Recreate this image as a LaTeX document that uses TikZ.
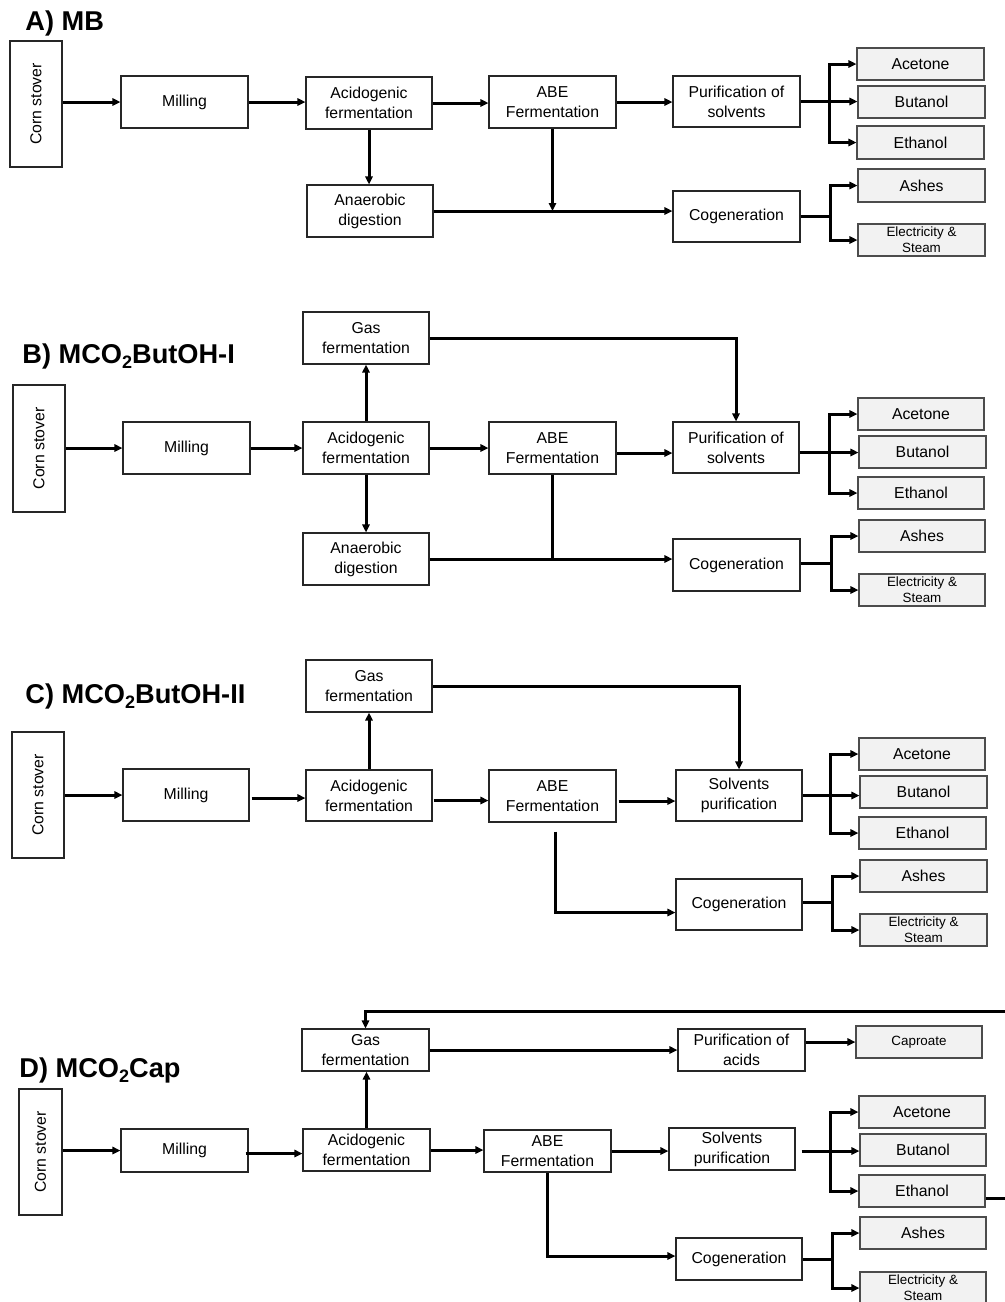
\documentclass[tikz,border=0pt]{standalone}
\usepackage{fontspec}
\setmainfont{Liberation Sans}
\usepackage{graphicx}
\usetikzlibrary{arrows.meta,calc}
\definecolor{prodfill}{RGB}{242,242,242}
\newcommand\fmain{\fontsize{7.9pt}{10pt}\selectfont}
\newcommand\fsmall{\fontsize{6.7pt}{8pt}\selectfont}
\newcommand\ftitle{\fontsize{13.6pt}{16pt}\selectfont\bfseries}
\newcommand\subtwo{\raisebox{-2.6pt}{\fontsize{9pt}{9pt}\selectfont 2}}
\newcommand\bx[7][box]{%
  \pgfmathsetmacro\bxcx{(#3+#5)/2}%
  \pgfmathsetmacro\bxcy{(#4+#6)/2}%
  \pgfmathsetmacro\bxw{(#5-#3)*0.5}%
  \pgfmathsetmacro\bxh{(#6-#4)*0.5}%
  \node[#1, minimum width=\bxw pt, minimum height=\bxh pt] (#2) at (\bxcx,\bxcy) {#7};}
\begin{document}
\begin{tikzpicture}[x=0.5pt,y=-0.5pt,
  box/.style={draw=black!85, line width=0.55pt, fill=white, inner sep=0pt, align=center, font=\fmain},
  prod/.style={box, fill=prodfill, draw=black!70},
  prods/.style={prod, font=\fsmall},
  ttl/.style={anchor=base west, inner sep=0pt, font=\ftitle},
  conn/.style={line width=1.5pt},
  arr/.style={conn, -{Triangle[length=4pt,width=3.6pt]}}]
\useasboundingbox (0,0) rectangle (1005,1302);

% ---------------- Panel A ----------------
\node[ttl] (tA) at (25,30) {A) MB};
\bx{Acorn}{10}{41}{62}{167}{\rotatebox{90}{Corn stover}}
\bx{Amill}{121}{76}{248}{128}{Milling}
\bx{Aacid}{306}{77}{432}{129}{Acidogenic\\fermentation}
\bx{Aanae}{307}{185}{433}{237}{Anaerobic\\digestion}
\bx{Aabe}{489}{76}{616}{128}{ABE\\Fermentation}
\bx{Apur}{673}{76}{800}{127}{Purification of\\solvents}
\bx{Acog}{673}{191}{800}{242}{Cogeneration}
\bx[prod]{Aace}{857}{48}{984}{80}{Acetone}
\bx[prod]{Abut}{858}{86}{985}{118}{Butanol}
\bx[prod]{Aeth}{857}{126}{984}{159}{Ethanol}
\bx[prod]{Aash}{858}{169}{985}{202}{Ashes}
\bx[prods]{Aele}{858}{224}{985}{256}{Electricity \&\\Steam}
\draw[arr] (Acorn.east |- Amill.west) -- (Amill.west);
\draw[arr] (Amill.east) -- (Amill.east -| Aacid.west);
\draw[arr] (Aacid.east) -- (Aacid.east -| Aabe.west);
\draw[arr] (Aabe.east) -- (Aabe.east -| Apur.west);
\draw[arr] (Aacid.south) -- (Aacid.south |- Aanae.north);
\draw[arr] (Aanae.east) -- (Aanae.east -| Acog.west);
\draw[arr] (Aabe.south) -- (Aabe.south |- Aanae.east);
\draw[conn] (Apur.east) -- ++(29,0) coordinate (Aj1);
\draw[arr] (Aj1) |- (Aace.west);
\draw[arr] (Aj1) -- (Aj1 -| Abut.west);
\draw[arr] (Aj1) |- (Aeth.west);
\draw[conn] (Acog.east) -- ++(30,0) coordinate (Aj2);
\draw[arr] (Aj2) |- (Aash.west);
\draw[arr] (Aj2) |- (Aele.west);

% ---------------- Panel B ----------------
\node[ttl] (tB) at (22,363) {B) MCO\subtwo ButOH-I};
\bx{Bgas}{303}{312}{429}{364}{Gas\\fermentation}
\bx{Bcorn}{13}{385}{65}{512}{\rotatebox{90}{Corn stover}}
\bx{Bmill}{123}{422}{250}{474}{Milling}
\bx{Bacid}{303}{422}{429}{474}{Acidogenic\\fermentation}
\bx{Banae}{303}{533}{429}{585}{Anaerobic\\digestion}
\bx{Babe}{489}{422}{616}{474}{ABE\\Fermentation}
\bx{Bpur}{673}{422}{799}{473}{Purification of\\solvents}
\bx{Bcog}{673}{539}{800}{591}{Cogeneration}
\bx[prod]{Bace}{858}{398}{984}{430}{Acetone}
\bx[prod]{Bbut}{859}{436}{986}{468}{Butanol}
\bx[prod]{Beth}{858}{477}{984}{509}{Ethanol}
\bx[prod]{Bash}{859}{520}{985}{552}{Ashes}
\bx[prods]{Bele}{859}{574}{985}{606}{Electricity \&\\Steam}
\draw[arr] (Bcorn.east |- Bmill.west) -- (Bmill.west);
\draw[arr] (Bmill.east) -- (Bmill.east -| Bacid.west);
\draw[arr] (Bacid.east) -- (Bacid.east -| Babe.west);
\draw[arr] ($(Babe.east)+(0,5)$) -- ($(Babe.east -| Bpur.west)+(0,5)$);
\draw[arr] (Bacid.north) -- (Bacid.north |- Bgas.south);
\draw[arr] (Bacid.south) -- (Bacid.south |- Banae.north);
\draw[arr] (Bgas.east) -| (Bpur.north);
\draw[arr] (Banae.east) -- (Banae.east -| Bcog.west);
\draw[conn] (Babe.south) -- (Babe.south |- Banae.east);
\draw[conn] ($(Bpur.east)+(0,5)$) -- ++(30,0) coordinate (Bj1);
\draw[arr] (Bj1) |- (Bace.west);
\draw[arr] (Bj1) -- (Bj1 -| Bbut.west);
\draw[arr] (Bj1) |- (Beth.west);
\draw[conn] ($(Bcog.east)+(0,-2)$) -- ++(31,0) coordinate (Bj2);
\draw[arr] (Bj2) |- (Bash.west);
\draw[arr] (Bj2) |- (Bele.west);

% ---------------- Panel C ----------------
\node[ttl] (tC) at (25,703) {C) MCO\subtwo ButOH-II};
\bx{Cgas}{306}{660}{432}{712}{Gas\\fermentation}
\bx{Ccorn}{12}{732}{64}{858}{\rotatebox{90}{Corn stover}}
\bx{Cmill}{123}{769}{249}{821}{Milling}
\bx{Cacid}{306}{770}{432}{821}{Acidogenic\\fermentation}
\bx{Cabe}{489}{770}{616}{822}{ABE\\Fermentation}
\bx{Cpur}{676}{770}{802}{821}{Solvents\\purification}
\bx{Ccog}{676}{879}{802}{930}{Cogeneration}
\bx[prod]{Cace}{859}{738}{985}{770}{Acetone}
\bx[prod]{Cbut}{860}{776}{987}{808}{Butanol}
\bx[prod]{Ceth}{859}{817}{986}{849}{Ethanol}
\bx[prod]{Cash}{860}{860}{987}{892}{Ashes}
\bx[prods]{Cele}{860}{914}{987}{946}{Electricity \&\\Steam}
\draw[arr] (Ccorn.east |- Cmill.west) -- (Cmill.west);
\draw[arr] ($(Cmill.east)+(2,3)$) -- ($(Cmill.east -| Cacid.west)+(0,3)$);
\draw[arr] ($(Cacid.east)+(1,5)$) -- ($(Cacid.east -| Cabe.west)+(0,5)$);
\draw[arr] ($(Cabe.east)+(2,5)$) -- ($(Cabe.east -| Cpur.west)+(0,5)$);
\draw[arr] (Cacid.north) -- (Cacid.north |- Cgas.south);
\draw[arr] (Cgas.east) -| (Cpur.north);
\draw[arr] ($(Cabe.south)+(3,9)$) |- ($(Ccog.west)+(0,8)$);
\draw[conn] (Cpur.east) -- ++(28,0) coordinate (Cj1);
\draw[arr] (Cj1) |- (Cace.west);
\draw[arr] (Cj1) -- (Cj1 -| Cbut.west);
\draw[arr] (Cj1) |- (Ceth.west);
\draw[conn] ($(Ccog.east)+(0,-2)$) -- ++(30,0) coordinate (Cj2);
\draw[arr] (Cj2) |- (Cash.west);
\draw[arr] (Cj2) |- (Cele.west);

% ---------------- Panel D ----------------
\node[ttl] (tD) at (19,1077) {D) MCO\subtwo Cap};
\bx{Dgas}{302}{1029}{429}{1071}{Gas\\fermentation}
\bx{Dcorn}{19}{1089}{62}{1215}{\rotatebox{90}{Corn stover}}
\bx{Dmill}{121}{1129}{248}{1172}{Milling}
\bx{Dacid}{303}{1129}{430}{1171}{Acidogenic\\fermentation}
\bx{Dabe}{484}{1130}{611}{1172}{ABE\\Fermentation}
\bx{Dpur}{669}{1128}{795}{1170}{Solvents\\purification}
\bx{Dpac}{678}{1029}{805}{1071}{Purification of\\acids}
\bx[prods]{Dcap}{856}{1026}{982}{1058}{Caproate}
\bx{Dcog}{676}{1238}{802}{1280}{Cogeneration}
\bx[prod]{Dace}{859}{1096}{985}{1128}{Acetone}
\bx[prod]{Dbut}{860}{1134}{986}{1166}{Butanol}
\bx[prod]{Deth}{859}{1175}{985}{1207}{Ethanol}
\bx[prod]{Dash}{860}{1217}{986}{1249}{Ashes}
\bx[prods]{Dele}{860}{1272}{986}{1304}{Electricity \&\\Steam}
\draw[arr] (Dcorn.east |- Dmill.west) -- (Dmill.west);
\draw[arr] ($(Dmill.east)+(-3,3)$) -- ($(Dmill.east -| Dacid.west)+(0,3)$);
\draw[arr] (Dacid.east) -- (Dacid.east -| Dabe.west);
\draw[arr] (Dabe.east) -- (Dabe.east -| Dpur.west);
\draw[arr] (Dacid.north) -- (Dacid.north |- Dgas.south);
\draw[arr] (Dgas.east) -- (Dgas.east -| Dpac.west);
\draw[arr] (Dcap.west -| Dpac.east) -- (Dcap.west);
\draw[arr] (Dabe.south) |- ($(Dcog.west)+(0,-3)$);
\draw[conn] ($(Dpur.east)+(6,2)$) -- ++(29,0) coordinate (Dj1);
\draw[arr] (Dj1) |- (Dace.west);
\draw[arr] (Dj1) -- (Dj1 -| Dbut.west);
\draw[arr] (Dj1) |- (Deth.west);
\draw[conn] (Dcog.east) -- ++(30,0) coordinate (Dj2);
\draw[arr] (Dj2) |- (Dash.west);
\draw[arr] (Dj2) |- (Dele.west);
\coordinate (Dr1) at (1012,1198);
\coordinate (Dr2) at (1012,1011);
\draw[arr] (Deth.east |- Dr1) -- (Dr1) -- (Dr2) -| (Dgas.north);
\end{tikzpicture}
\end{document}
